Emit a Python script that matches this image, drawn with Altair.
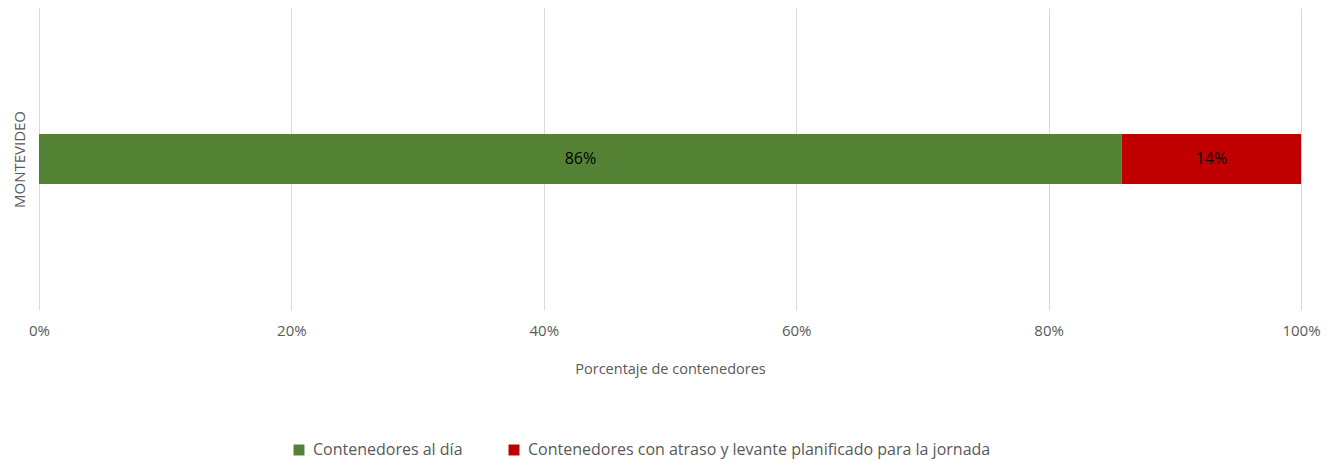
import altair as alt
import pandas as pd

regions = ["MONTEVIDEO", "MONTEVIDEO"]
categories = ["Contenedores al día", "Contenedores con atraso y levante planificado para la jornada"]
values = [0.858, 0.142]
order = [0, 1]
colors = ["#548235", "#C00000"]

df = pd.DataFrame({"region": regions, "cat": categories, "val": values, "ord": order})

FONT = "Open Sans"
GRAY = "#595959"

base = alt.Chart(df).transform_stack(
    stack="val", groupby=["region"], as_=["v0", "v1"], sort=[alt.SortField("ord")]
)

bars = base.mark_bar(size=50).encode(
    x=alt.X("v0:Q", scale=alt.Scale(domain=[0, 1], nice=False),
            axis=alt.Axis(format=".0%", values=[0, 0.2, 0.4, 0.6, 0.8, 1.0],
                          title="Porcentaje de contenedores", grid=True, gridColor="#d9d9d9",
                          domain=False, ticks=False, labelPadding=13, titlePadding=24,
                          labelFlush=False,
                          labelFontSize=15, titleFontSize=14.5, labelColor=GRAY,
                          titleColor=GRAY, titleFontWeight="normal", labelFont=FONT, titleFont=FONT)),
    x2="v1:Q",
    y=alt.Y("region:N", axis=alt.Axis(labels=False, ticks=False, domain=False, title="MONTEVIDEO",
                                      titleFontSize=15, titleColor=GRAY, titleFontWeight="normal",
                                      titleFont=FONT, titlePadding=12)),
    color=alt.Color("cat:N", scale=alt.Scale(domain=categories, range=colors),
                    legend=alt.Legend(title=None, orient="none", direction="horizontal",
                                      legendX=252, legendY=434, symbolType="square", symbolSize=120,
                                      symbolStrokeWidth=0, labelFontSize=16, labelColor=GRAY,
                                      labelOffset=6,
                                      labelFont=FONT, labelLimit=700, columnPadding=43)),
    order=alt.Order("ord:Q"),
)

labels = base.transform_calculate(mid="(datum.v0 + datum.v1) / 2").mark_text(
    fontSize=16, color="black", font=FONT
).encode(
    x="mid:Q",
    y="region:N",
    text=alt.Text("val:Q", format=".0%"),
)

chart = (bars + labels).properties(
    width=1262, height=302,
    padding={"left": 31, "top": 0, "right": 29, "bottom": 151},
    autosize=alt.AutoSizeParams(type="none"),
    background="white",
).configure_view(stroke=None)

chart.save("out.html", embed_options={"renderer": "svg", "actions": False})
